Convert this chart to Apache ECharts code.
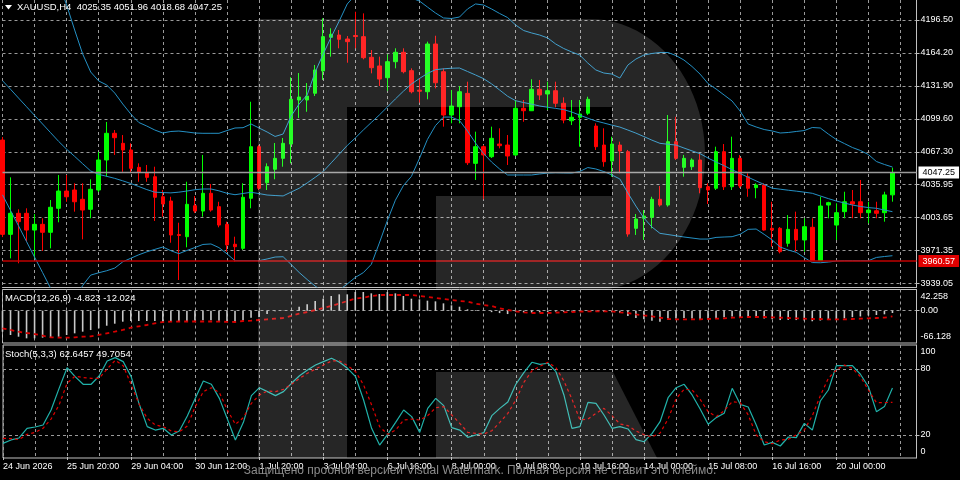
<!DOCTYPE html>
<html><head><meta charset="utf-8">
<script src="https://cdn.jsdelivr.net/npm/echarts@6/dist/echarts.min.js"></script>
<style>html,body{margin:0;padding:0;background:#000;}#c{width:960px;height:480px;}</style>
</head><body><div id="c"></div>
<script>
// trading sessions: [day, first hour, number of H4 bars]
const sessionDays = [['24 Jun',12,3],['25 Jun',0,6],['26 Jun',0,6],['29 Jun',0,6],['30 Jun',0,6],['1 Jul',0,6],['2 Jul',0,6],['3 Jul',0,5],['6 Jul',0,6],['7 Jul',0,6],['8 Jul',0,6],['9 Jul',0,6],['10 Jul',0,6],['13 Jul',0,6],['14 Jul',0,6],['15 Jul',0,6],['16 Jul',0,6],['17 Jul',0,6],['20 Jul',0,6],['21 Jul',0,2]];
const timeLabels = ['24 Jun 2026','25 Jun 20:00','29 Jun 04:00','30 Jun 12:00','1 Jul 20:00','3 Jul 04:00','6 Jul 16:00','8 Jul 00:00','9 Jul 08:00','10 Jul 16:00','14 Jul 00:00','15 Jul 08:00','16 Jul 16:00','20 Jul 00:00'];
// [open, high, low, close]
const candles = [
[4079.0,4082.0,3984.0,3986.7],[3986.7,4042.5,3963.2,4007.3],[4007.3,4011.2,3958.4,3999.1],[4007.3,4012.2,3979.5,3990.9],
[3990.9,4006.6,3963.2,3996.5],[3996.5,4002.4,3970.4,3988.7],[3988.7,4020.3,3973.0,4013.2],[4012.2,4044.8,3998.5,4029.1],
[4029.1,4044.8,4018.6,4023.5],[4030.1,4036.7,4008.9,4018.6],[4021.0,4036.7,3981.8,4010.5],[4011.2,4040.6,4002.4,4030.8],
[4030.1,4067.3,4028.1,4059.5],[4059.5,4096.7,4043.1,4085.6],[4085.6,4088.8,4064.4,4081.3],[4075.8,4083.9,4048.0,4069.3],
[4069.3,4075.8,4047.7,4051.3],[4052.3,4056.2,4038.2,4047.4],[4047.4,4054.6,4038.2,4042.5],[4043.1,4052.9,3999.8,4023.0],
[4023.5,4030.1,4004.0,4016.4],[4019.3,4023.5,3978.5,3986.1],[3986.5,3998.1,3942.0,3985.6],[3984.4,4038.2,3974.0,4016.1],
[4014.7,4024.2,4007.6,4009.5],[4009.5,4064.4,4004.0,4026.9],[4026.9,4036.0,4008.9,4010.5],[4013.8,4018.6,3993.6,3995.8],
[3996.5,3999.1,3969.7,3976.3],[3977.0,3984.4,3959.9,3974.6],[3973.0,4036.7,3971.4,4023.0],[4022.0,4116.5,4012.2,4072.5],
[4072.5,4074.1,4030.1,4031.8],[4037.2,4056.2,4030.1,4052.9],[4050.4,4076.1,4040.6,4061.1],[4061.1,4081.0,4052.9,4075.8],
[4075.1,4140.4,4056.2,4118.9],[4118.2,4144.6,4100.6,4121.1],[4118.2,4134.8,4106.7,4122.1],[4124.8,4152.5,4122.1,4147.6],
[4146.6,4198.2,4137.8,4180.2],[4179.6,4188.4,4160.6,4182.5],[4181.8,4186.7,4168.8,4177.6],[4177.9,4180.8,4154.7,4175.3],
[4181.3,4204.6,4168.8,4180.3],[4180.2,4203.0,4158.0,4159.6],[4160.0,4167.1,4144.3,4149.8],[4151.5,4160.6,4131.9,4138.7],
[4140.0,4162.9,4127.3,4155.7],[4155.7,4168.8,4149.2,4164.9],[4164.9,4168.8,4144.3,4145.9],[4146.9,4149.2,4124.7,4126.3],
[4127.8,4139.4,4115.6,4126.8],[4126.3,4175.3,4118.9,4173.0],[4173.0,4181.1,4129.6,4135.1],[4145.9,4149.2,4092.1,4103.5],
[4103.5,4128.0,4095.4,4112.3],[4111.6,4131.9,4095.4,4126.3],[4124.7,4136.1,4054.6,4056.8],[4056.2,4087.2,4039.9,4072.5],
[4072.5,4074.1,4021.0,4064.4],[4062.7,4092.1,4061.4,4080.7],[4075.1,4090.5,4070.9,4073.5],[4074.1,4083.9,4054.6,4063.4],
[4064.4,4118.2,4063.4,4110.1],[4110.1,4118.2,4096.9,4107.7],[4107.7,4138.5,4107.4,4128.7],[4128.7,4137.8,4118.2,4123.1],
[4124.1,4136.1,4108.4,4127.3],[4127.3,4136.1,4111.0,4115.0],[4115.0,4120.8,4095.4,4098.6],[4097.9,4118.2,4093.7,4101.3],
[4101.3,4118.2,4072.5,4104.5],[4105.2,4121.4,4103.5,4118.9],[4092.7,4095.4,4069.3,4072.5],[4074.1,4090.5,4052.9,4057.8],
[4058.5,4082.3,4043.1,4075.1],[4074.1,4077.4,4046.4,4068.3],[4067.6,4069.3,3984.4,3987.0],[3992.6,4006.6,3986.1,4001.7],
[4002.4,4010.5,3981.2,4004.6],[4003.4,4023.5,3992.6,4021.0],[4021.0,4034.0,4013.8,4015.4],[4015.4,4103.5,4013.8,4077.4],
[4077.4,4101.8,4059.5,4061.1],[4052.3,4064.4,4043.1,4061.1],[4052.9,4061.1,4049.7,4059.5],[4059.5,4066.0,4026.9,4032.4],
[4033.3,4036.7,4016.4,4030.1],[4031.8,4072.5,4030.1,4067.6],[4067.6,4075.1,4030.1,4033.3],[4033.3,4082.3,4030.1,4061.1],
[4061.1,4064.4,4032.1,4034.0],[4043.1,4046.4,4023.5,4031.8],[4032.4,4036.7,4022.0,4035.0],[4035.0,4036.7,3990.3,3990.9],
[3992.6,4018.6,3974.6,3990.9],[3992.6,3993.9,3968.1,3969.7],[3977.9,4005.6,3974.6,3991.6],[3991.6,4008.9,3969.7,3981.2],
[3981.2,4002.4,3969.7,3994.2],[3993.6,4002.4,3960.6,3961.0],[3961.0,4023.5,3960.6,4014.4],[4015.4,4018.6,4002.4,4017.7],
[3995.8,4017.1,3981.2,4007.9],[4008.9,4028.4,4002.4,4018.6],[4018.6,4030.1,4002.4,4016.4],[4018.6,4039.9,4002.4,4007.9],
[4007.9,4018.6,3997.5,4010.5],[4009.8,4018.6,4002.4,4007.3],[4007.9,4028.4,3999.1,4025.3],[4025.35,4051.96,4018.68,4047.25]
];
const bbUpper = [4248.8,4247.0,4245.0,4243.6,4242.0,4240.0,4238.0,4233.0,4211.2,4186.7,4163.2,4145.6,4136.8,4132.9,4125.0,4114.3,4104.5,4096.2,4092.7,4088.8,4085.9,4087.4,4087.8,4086.9,4085.9,4085.6,4085.6,4085.6,4088.3,4090.8,4091.1,4094.7,4090.8,4086.9,4082.5,4084.9,4102.5,4114.3,4123.1,4145.6,4163.2,4179.9,4195.5,4212.2,4221.0,4227.8,4233.7,4230.8,4225.9,4222.0,4220.0,4218.0,4215.1,4209.2,4203.4,4198.5,4198.0,4199.4,4207.3,4212.2,4211.2,4207.3,4202.9,4198.9,4191.6,4186.2,4183.8,4181.8,4178.9,4173.0,4168.6,4165.2,4162.2,4154.4,4147.6,4144.6,4143.6,4139.7,4152.4,4158.3,4162.2,4163.7,4164.7,4164.7,4161.7,4157.3,4151.0,4143.6,4134.3,4129.0,4123.1,4117.2,4107.4,4094.7,4091.8,4089.3,4087.9,4085.9,4086.4,4087.4,4088.3,4091.3,4090.8,4084.9,4079.5,4075.6,4071.7,4068.8,4064.8,4058.0,4055.1,4052.6];
const bbMiddle = [4137.1,4128.7,4120.1,4111.6,4103.1,4094.7,4086.2,4077.7,4070.0,4063.0,4055.8,4048.7,4045.4,4043.5,4041.5,4039.1,4036.5,4033.5,4030.5,4028.0,4027.6,4027.3,4028.0,4029.1,4030.4,4031.1,4031.1,4029.3,4026.9,4025.5,4026.7,4027.9,4026.6,4025.2,4024.7,4024.3,4028.1,4031.8,4037.0,4042.5,4048.2,4056.7,4065.2,4073.7,4081.0,4088.8,4096.2,4103.5,4111.3,4119.2,4126.8,4133.8,4139.2,4144.2,4147.9,4148.7,4149.3,4149.5,4146.1,4142.7,4139.1,4134.0,4128.0,4121.9,4117.5,4115.7,4114.1,4112.3,4111.1,4110.0,4108.8,4106.4,4103.4,4100.4,4097.7,4095.7,4093.6,4091.7,4088.8,4085.8,4082.4,4078.9,4075.8,4074.9,4074.1,4071.2,4068.4,4065.7,4061.4,4057.5,4053.9,4050.0,4046.2,4042.6,4039.0,4035.5,4031.9,4030.9,4029.9,4029.0,4028.0,4026.9,4024.3,4021.7,4019.3,4017.4,4015.4,4014.0,4012.9,4012.2,4010.5,4008.9];
const bbLower = [4025.4,4010.1,3995.0,3979.6,3964.4,3949.3,3934.0,3924.4,3919.5,3922.4,3936.7,3946.8,3949.1,3951.1,3953.7,3959.8,3963.3,3966.7,3969.6,3972.0,3974.3,3970.7,3967.8,3970.9,3973.8,3976.8,3977.3,3973.7,3967.6,3960.9,3960.9,3960.9,3960.9,3962.6,3964.5,3964.8,3957.2,3949.4,3942.5,3936.1,3930.3,3927.3,3932.2,3938.1,3944.5,3949.2,3957.3,3978.2,4000.1,4020.1,4034.4,4043.4,4060.9,4079.6,4093.1,4101.5,4101.5,4098.1,4087.8,4076.1,4065.8,4057.5,4050.7,4044.8,4044.8,4044.8,4044.8,4045.8,4046.7,4047.0,4046.8,4046.7,4048.2,4052.1,4050.7,4048.2,4044.8,4040.9,4027.2,4014.4,4002.7,3993.9,3987.7,3986.5,3985.3,3984.1,3983.1,3982.1,3982.1,3983.7,3984.1,3984.4,3986.8,3991.6,3991.9,3986.7,3981.2,3974.3,3971.4,3969.1,3964.0,3959.1,3958.9,3959.6,3960.6,3960.9,3960.9,3960.9,3960.9,3964.1,3965.0,3965.8];
const macdMain = [-43.8,-50.7,-54.2,-57.6,-57.6,-56.2,-56.2,-54.2,-50.7,-47.2,-43.7,-40.3,-36.8,-31.3,-27.1,-22.9,-21.5,-21.5,-21.5,-21.5,-22.9,-22.9,-22.9,-21.5,-20.8,-20.1,-20.1,-20.8,-22.2,-23.6,-20.8,-14.6,-13.0,-6.9,-1.0,0.5,1.5,8.3,13.3,20.2,25.0,30.6,34.1,34.1,39.0,39.0,36.2,34.8,39.0,36.2,30.6,25.0,23.7,20.9,19.5,15.3,11.2,8.3,2.8,1.4,1.0,-3.0,-5.0,-7.0,-2.0,-3.5,-4.0,-3.5,-3.0,-2.0,-2.5,-1.5,-1.0,0.5,-1.0,-2.0,-3.0,-5.0,-11.0,-15.0,-18.0,-21.0,-23.0,-18.0,-16.0,-15.0,-16.0,-18.0,-19.0,-16.0,-13.5,-12.0,-13.5,-14.0,-14.5,-16.5,-18.0,-19.5,-19.0,-19.5,-20.5,-22.0,-20.5,-19.5,-18.5,-16.0,-13.5,-12.0,-10.0,-9.0,-7.5,-4.823];
const macdSignal = [-36.8,-40.2,-43.7,-46.5,-48.6,-52.0,-55.5,-56.2,-56.2,-55.5,-54.1,-53.4,-50.6,-47.1,-43.7,-40.2,-35.4,-32.6,-29.8,-26.3,-23.6,-22.8,-22.5,-22.5,-22.5,-22.5,-22.5,-22.8,-23.2,-23.6,-21.5,-20.8,-19.4,-18.0,-16.6,-15.2,-11.0,-6.2,-2.7,1.5,5.6,9.8,14.7,20.2,25.1,27.1,30.6,32.7,32.7,32.7,32.7,32.7,30.6,28.6,26.5,24.4,22.3,20.2,18.8,14.7,11.9,9.8,4.9,1.5,-1.3,-3.4,-4.8,-4.8,-4.8,-4.1,-3.4,-2.7,-2.0,-1.3,-1.3,-1.3,-1.3,-3.4,-4.8,-7.6,-9.7,-11.7,-14.5,-17.3,-18.0,-18.0,-18.0,-18.0,-17.3,-16.6,-15.9,-14.5,-13.8,-13.1,-13.1,-13.1,-13.8,-14.5,-15.2,-15.9,-16.6,-17.3,-17.3,-18.0,-18.0,-18.0,-17.3,-16.6,-15.9,-15.2,-14.5,-12.024];
const stochK = [12.4,15.5,17.3,26.1,27.3,29.1,42.7,62.4,81.2,73.0,66.1,66.1,73.6,87.3,90.3,86.7,73.0,47.9,27.6,24.5,26.1,20.0,23.6,37.3,53.3,69.1,66.1,53.3,34.5,15.5,31.5,55.8,63.0,59.4,55.8,59.4,67.0,73.9,79.1,83.6,86.7,89.7,86.1,80.6,73.0,51.8,26.1,10.9,20.6,31.5,42.7,36.7,22.4,44.2,53.3,46.7,26.7,24.5,17.9,20.0,22.1,37.6,44.2,50.0,66.1,76.7,86.1,84.2,85.2,77.6,56.4,26.1,27.6,49.7,48.8,38.2,26.1,27.6,25.5,15.8,13.9,21.5,32.1,53.9,63.0,66.1,56.4,43.6,29.7,35.8,39.7,62.4,47.9,45.5,29.1,10.9,13.3,10.0,18.2,17.6,30.6,24.5,50.9,60.9,83.0,83.0,83.0,75.2,63.9,41.2,45.8,62.6457];
const stochD = [17.0,16.7,15.8,20.6,22.4,26.1,34.5,47.3,67.0,73.6,72.1,71.5,71.5,80.0,87.9,83.0,65.5,47.9,35.2,29.1,27.6,23.6,23.0,28.2,45.8,59.4,63.0,58.5,42.7,29.7,35.8,48.8,56.4,60.0,59.4,61.5,66.1,71.5,76.1,80.0,83.6,87.3,87.3,83.0,77.6,65.5,47.3,27.6,20.6,24.5,33.6,34.5,33.6,37.6,44.8,45.8,38.2,30.6,22.4,21.5,20.9,23.9,31.5,39.7,51.8,67.9,78.2,82.4,86.1,81.2,69.1,52.7,33.6,34.5,39.7,44.2,37.6,30.0,28.5,23.6,20.3,18.2,21.8,34.5,53.0,61.5,60.9,52.4,41.2,36.7,42.1,50.3,49.4,38.2,20.0,13.9,12.1,15.5,16.1,20.0,24.5,37.6,55.8,71.5,79.1,83.6,80.6,73.0,60.9,49.4,49.4,49.7054];
const priceTicks = [3939.05,3971.35,4003.65,4035.95,4067.30,4099.60,4131.90,4164.20,4196.50];
const macdTicks = [-66.128,0,42.258];
const macdTickLabels = ['-66.128','0.00','42.258'];
const stochTicks = [0,20,80,100];
const stochLevels = [20,80];
const bidPrice = 4047.25;
const levelPrice = 3960.57;

const categories = [];
sessionDays.forEach(([d,h,n]) => { for (let k=0;k<n;k++) categories.push(d+' '+String(h+4*k).padStart(2,'0')+':00'); });
for (let k=0;k<3;k++) categories.push('');

const FONT = 'Liberation Sans';
const GRID_COLOR = '#9a9a9a';
const gridSplit = {show:true, interval:(i)=>i%4===0, lineStyle:{color:GRID_COLOR, type:[3,3], width:1}};
const ySplit = {show:true, lineStyle:{color:GRID_COLOR, type:[3,3], width:1}};
const last = candles[candles.length-1];
const fmt2 = v => v.toFixed(2);

function xAx(gi, showLabels){
  return {type:'category', gridIndex:gi, data:categories, boundaryGap:false,
    axisLine:{show: gi===0, lineStyle:{color:'#c0c0c0'}},
    axisTick:{show:showLabels, interval:(i)=>i%8===0 && i/8<timeLabels.length, length:3, lineStyle:{color:'#c0c0c0'}},
    axisLabel:{show:showLabels, interval:(i)=>i%8===0 && i/8<timeLabels.length, align:'left', margin:4,
      color:'#ffffff', fontSize:9, fontFamily:FONT, formatter:(v,i)=>timeLabels[i/8]},
    splitLine:gridSplit};
}
const labStyle = {color:'#ffffff', fontSize:9, fontFamily:FONT};
const titleStyle = {color:'#fff', fontSize:9.5, fontWeight:'normal', fontFamily:FONT};

// watermark logo outline (decoration)
const logoPts = [[258,19],[590,19]];
for (let a=-90; a<=83; a+=4) { const r=a*Math.PI/180; logoPts.push([590+115*Math.cos(r), 155+136*Math.sin(r)]); }
logoPts.push([604,289],[436,289],[436,196],[612,196],[612,107],[347,107],[347,458],[258,458]);

const option = {
  backgroundColor:'#000000',
  animation:false,
  textStyle:{fontFamily:FONT},
  title:[
    {text:'XAUUSD,H4  '+last.map(fmt2).join(' '), left:17, top:2, padding:0, textStyle:titleStyle},
    {text:'MACD(12,26,9) '+macdMain[macdMain.length-1].toFixed(3)+' '+macdSignal[macdSignal.length-1].toFixed(3), left:5, top:293, padding:0, textStyle:titleStyle},
    {text:'Stoch(5,3,3) '+stochK[stochK.length-1].toFixed(4)+' '+stochD[stochD.length-1].toFixed(4), left:5, top:349, padding:0, textStyle:titleStyle}
  ],
  grid:[
    {left:2.5, width:914, top:0, height:287, show:false},
    {left:2.5, width:914, top:289.5, height:53.5, show:true, borderColor:'#c0c0c0', borderWidth:1, backgroundColor:'transparent'},
    {left:2.5, width:914, top:345, height:113, show:true, borderColor:'#c0c0c0', borderWidth:1, backgroundColor:'transparent'}
  ],
  xAxis:[xAx(0,false), xAx(1,false), xAx(2,true)],
  yAxis:[
    {type:'value', gridIndex:0, position:'right', min:3935.17, max:4216.08,
      axisLine:{show:true, lineStyle:{color:'#c0c0c0'}},
      axisTick:{show:true, customValues:priceTicks, length:3, lineStyle:{color:'#c0c0c0'}},
      axisLabel:Object.assign({customValues:priceTicks, margin:4, formatter:fmt2}, labStyle),
      splitLine:ySplit},
    {type:'value', gridIndex:1, position:'right', min:-67.32, max:44.19,
      axisLine:{show:true, lineStyle:{color:'#c0c0c0'}},
      axisTick:{show:true, customValues:[0], length:3, lineStyle:{color:'#c0c0c0'}},
      axisLabel:Object.assign({customValues:macdTicks, margin:4,
        formatter:(v)=>{const k=macdTicks.indexOf(v); const t=macdTickLabels[k]; return k===2?'{t|'+t+'}':(k===0?'{b|'+t+'}':t);},
        rich:{t:Object.assign({padding:[12,0,0,0]},labStyle), b:Object.assign({padding:[0,0,12,0]},labStyle)}}, labStyle),
      splitLine:ySplit},
    {type:'value', gridIndex:2, position:'right', min:-0.9, max:101.8,
      axisLine:{show:true, lineStyle:{color:'#c0c0c0'}},
      axisTick:{show:true, customValues:stochLevels, length:3, lineStyle:{color:'#c0c0c0'}},
      axisLabel:Object.assign({customValues:stochTicks, margin:4,
        formatter:(v)=> v===100?'{t|100}':(v===0?'{b|0}':String(v)),
        rich:{t:Object.assign({padding:[10,0,0,0]},labStyle), b:Object.assign({padding:[0,0,10,0]},labStyle)}}, labStyle),
      splitLine:ySplit}
  ],
  series:[
    {type:'candlestick', xAxisIndex:0, yAxisIndex:0, clip:false, barWidth:4,
      data:candles.map(c=>[c[0],c[3],c[2],c[1]]),
      itemStyle:{color:'#00ff00', color0:'#ff0000', borderColor:'#00ff00', borderColor0:'#ff0000', borderWidth:1},
      markLine:{symbol:'none', silent:true, animation:false,
        data:[
          {yAxis:bidPrice, lineStyle:{color:'#9a9a9a', type:'solid', width:1.3},
            label:{show:true, position:'end', distance:2, formatter:fmt2(bidPrice), color:'#000', backgroundColor:'#ffffff', padding:[2,4,1,4], fontSize:9, fontFamily:FONT}},
          {yAxis:levelPrice, lineStyle:{color:'#c00000', type:'solid', width:1.5},
            label:{show:true, position:'end', distance:2, formatter:fmt2(levelPrice), color:'#ffffff', backgroundColor:'#e00000', padding:[2,4,1,4], fontSize:9, fontFamily:FONT}}
        ]}},
    {type:'line', xAxisIndex:0, yAxisIndex:0, data:bbUpper, symbol:'none', lineStyle:{color:'#2490c4', width:1}},
    {type:'line', xAxisIndex:0, yAxisIndex:0, data:bbMiddle, symbol:'none', lineStyle:{color:'#2490c4', width:1}},
    {type:'line', xAxisIndex:0, yAxisIndex:0, data:bbLower, symbol:'none', lineStyle:{color:'#2490c4', width:1}},
    {type:'bar', xAxisIndex:1, yAxisIndex:1, data:macdMain, barWidth:1.6, itemStyle:{color:'#c8c8c8'}},
    {type:'line', xAxisIndex:1, yAxisIndex:1, data:macdSignal, symbol:'none', lineStyle:{color:'#d80000', width:1.8, type:[4,4]}},
    {type:'line', xAxisIndex:2, yAxisIndex:2, data:stochK, symbol:'none', lineStyle:{color:'#20b2aa', width:1.2}},
    {type:'line', xAxisIndex:2, yAxisIndex:2, data:stochD, symbol:'none', lineStyle:{color:'#e00000', width:1.2, type:[3,3]}}
  ],
  graphic:[
    {type:'polygon', z:200, shape:{points:[[5,5],[12,5],[8.5,9.5]]}, style:{fill:'#ffffff'}},
    {type:'polygon', z:150, silent:true, shape:{points:logoPts}, style:{fill:'rgba(255,255,255,0.15)'}},
    {type:'polygon', z:150, silent:true, shape:{points:[[436,372],[613,372],[657,458],[436,458]]}, style:{fill:'rgba(255,255,255,0.15)'}},
    {type:'text', z:200, silent:true, left:'center', top:465, style:{text:'Защищено пробной версией Visual Watermark. Полная версия не ставит это клеймо.', fill:'#8c8c8c', font:'12px "Liberation Sans"'}}
  ]
};
const chart = echarts.init(document.getElementById('c'), null, {renderer:'canvas'});
chart.setOption(option);
</script>
</body></html>
